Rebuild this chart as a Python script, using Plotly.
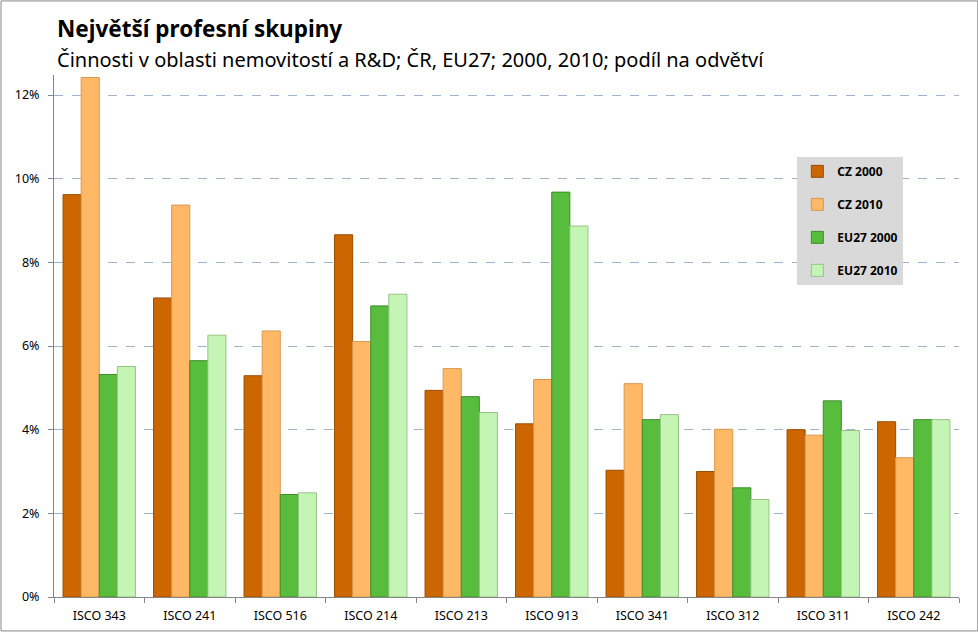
import plotly.graph_objects as go

categories = ["ISCO 343", "ISCO 241", "ISCO 516", "ISCO 214", "ISCO 213",
              "ISCO 913", "ISCO 341", "ISCO 312", "ISCO 311", "ISCO 242"]
cz_2000 = [9.62, 7.15, 5.29, 8.66, 4.94, 4.14, 3.03, 3.00, 4.00, 4.19]
cz_2010 = [12.42, 9.37, 6.36, 6.11, 5.46, 5.20, 5.10, 4.01, 3.87, 3.33]
eu_2000 = [5.32, 5.65, 2.45, 6.96, 4.79, 9.68, 4.24, 2.61, 4.69, 4.24]
eu_2010 = [5.51, 6.26, 2.49, 7.24, 4.41, 8.87, 4.36, 2.33, 3.98, 4.24]
series_names = ["CZ 2000", "CZ 2010", "EU27 2000", "EU27 2010"]
y_ticks = [0, 2, 4, 6, 8, 10, 12]
y_tick_labels = ["0%", "2%", "4%", "6%", "8%", "10%", "12%"]

colors = ["#CC6600", "#FFB966", "#58BC3C", "#C4F5B5"]
edges = ["#9A4D00", "#D9974E", "#3E8E2A", "#95C488"]

FONT = "Noto Sans"

fig = go.Figure()
for name, vals, c, e in zip(series_names, [cz_2000, cz_2010, eu_2000, eu_2010], colors, edges):
    fig.add_trace(go.Bar(
        x=categories, y=vals, name=name, legendgroup=name,
        marker=dict(color=c, line=dict(color=e, width=1)),
    ))

# plot area geometry (pixels)
L, R, T, B = 53.5, 958.7, 74.7, 597.5
W, H = R - L, B - T
def px(x):
    return (x - L) / W
def py(y):
    return (B - y) / H

fig.update_layout(
    width=978, height=632,
    margin=dict(l=L, r=978 - R, t=T, b=632 - B, pad=0, autoexpand=False),
    paper_bgcolor="white", plot_bgcolor="white",
    barmode="group", bargap=0.2, bargroupgap=0.0,
    font=dict(family=FONT, size=12, color="#000000"),
    showlegend=True,
    legend=dict(
        x=px(797), y=py(156.7), xanchor="left", yanchor="top",
        bgcolor="#D9D9D9", borderwidth=0,
        font=dict(family=FONT, size=12, color="#000000", weight="bold"),
        traceorder="grouped", tracegroupgap=14,
        itemwidth=30,
    ),
    xaxis=dict(
        type="category", showline=True, linecolor="#868686", linewidth=1,
        ticks="outside", tickson="boundaries", ticklen=5, tickcolor="#868686",
        tickfont=dict(family=FONT, size=12.5, color="#000000"),
        ticklabelstandoff=7, automargin=False,
        showgrid=False, zeroline=False,
    ),
    yaxis=dict(
        range=[0, 12.48], tickvals=y_ticks, ticktext=y_tick_labels,
        showline=True, linecolor="#868686", linewidth=1,
        ticks="outside", ticklen=5, tickcolor="#868686",
        tickfont=dict(family=FONT, size=12.5, color="#000000"),
        ticklabelstandoff=6, automargin=False,
        showgrid=True, gridcolor="#9EB4D0", gridwidth=1, griddash="dash",
        zeroline=False,
    ),
    annotations=[
        dict(text="<b>Největší profesní skupiny</b>", xref="paper", yref="paper",
             x=px(55), y=py(28), xanchor="left", yanchor="middle", showarrow=False,
             font=dict(family=FONT, size=22.5, color="#000000")),
        dict(text="Činnosti v oblasti nemovitostí a R&D; ČR, EU27; 2000, 2010; podíl na odvětví",
             xref="paper", yref="paper",
             x=px(55), y=py(59), xanchor="left", yanchor="middle", showarrow=False,
             font=dict(family=FONT, size=20, color="#000000")),
    ],
    shapes=[
        dict(type="rect", xref="paper", yref="paper",
             x0=px(0.5), x1=px(977.5), y0=py(0.5), y1=py(631.5),
             line=dict(color="#888888", width=1), fillcolor="rgba(0,0,0,0)", layer="below"),
    ],
)

fig.write_html(
    "out.html",
    config={"displayModeBar": False},
    post_script="document.body.style.margin='0';document.body.style.padding='0';document.body.style.overflow='hidden';",
)
